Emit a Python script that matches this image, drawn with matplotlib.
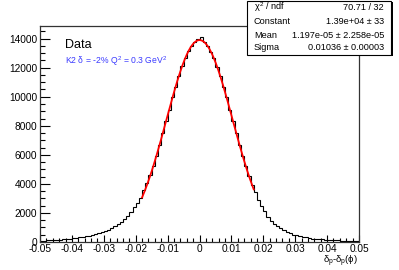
import numpy as np
import matplotlib
matplotlib.use("Agg")
import matplotlib.pyplot as plt
from matplotlib.ticker import MultipleLocator, FixedLocator
from matplotlib.patches import Rectangle

plt.rcParams['font.family'] = ['Liberation Sans', 'DejaVu Sans']
plt.rcParams['mathtext.fontset'] = 'custom'
plt.rcParams['mathtext.rm'] = 'Liberation Sans'
plt.rcParams['mathtext.it'] = 'Liberation Sans'

# histogram: 100 bins from -0.05 to 0.05
bin_edges_lo = -0.05
bin_edges_hi = 0.05
n_bins = 100
counts = [
    90, 100, 110, 120, 130, 140, 160, 180, 200, 225,
    250, 280, 310, 345, 390, 440, 490, 550, 610, 680,
    760, 850, 950, 1080, 1220, 1380, 1580, 1800, 2050, 2380,
    2700, 3050, 3550,
    4050, 4600, 5250, 5950, 6700, 7500, 8350, 9100, 9950, 10700,
    11400, 12100, 12650, 13150, 13480, 13780, 13950,
    14100, 13800, 13520, 13100, 12680, 12050, 11450, 10680, 9950, 9100,
    8300, 7520, 6700, 5950, 5200, 4550, 3950,
    3450, 2900, 2450, 2100, 1750, 1450, 1250, 1080, 940, 820,
    700, 590, 510, 470, 410, 360, 310, 270, 240, 215,
    195, 175, 160, 145, 130, 120, 108, 98, 90, 82,
    76, 70, 65,
]

# gaussian fit parameters (from stats box)
fit_const = 1.39e4
fit_mean = 1.197e-05
fit_sigma = 0.01036
fit_lo = -0.018
fit_hi = 0.017

stats_names = [r'$\chi^{2}$ / ndf', 'Constant', 'Mean', 'Sigma']
stats_vals = ['70.71 / 32', '1.39e+04 ± 33', '1.197e-05 ± 2.258e-05', '0.01036 ± 0.00003']

x_ticks = [-0.05, -0.04, -0.03, -0.02, -0.01, 0, 0.01, 0.02, 0.03, 0.04, 0.05]
x_tick_labels = ['-0.05', '-0.04', '-0.03', '-0.02', '-0.01', '0', '0.01', '0.02', '0.03', '0.04', '0.05']
y_ticks = [0, 2000, 4000, 6000, 8000, 10000, 12000, 14000]

W, H = 399, 270
fig = plt.figure(figsize=(W / 100, H / 100), dpi=100)
fig.patch.set_facecolor('white')
ax = fig.add_axes([40 / W, (H - 242) / H, (359 - 40) / W, (242 - 26) / H])

edges = np.linspace(bin_edges_lo, bin_edges_hi, n_bins + 1)
ax.stairs(counts, edges, color='black', lw=0.8, baseline=None)

xf = np.linspace(fit_lo, fit_hi, 300)
yf = fit_const * np.exp(-0.5 * ((xf - fit_mean) / fit_sigma) ** 2)
ax.plot(xf, yf, color='red', lw=1.3)

ax.set_xlim(-0.05, 0.05)
ax.set_ylim(0, 14870)
ax.xaxis.set_major_locator(FixedLocator(x_ticks))
ax.set_xticklabels(x_tick_labels)
ax.xaxis.set_minor_locator(MultipleLocator(0.002))
ax.yaxis.set_major_locator(FixedLocator(y_ticks))
ax.yaxis.set_minor_locator(MultipleLocator(500))
ax.tick_params(which='both', direction='in', top=False, right=False, labelsize=7.3, colors='black', width=0.8)
ax.tick_params(axis='y', which='major', length=7, pad=2)
ax.tick_params(axis='y', which='minor', length=3.5)
ax.tick_params(axis='x', which='major', length=5, pad=1.5)
ax.tick_params(axis='x', which='minor', length=3)
for s in ax.spines.values():
    s.set_linewidth(0.9)
    s.set_color('#333333')

ax.text(65 / W, 1 - 45 / H, 'Data', transform=fig.transFigure, fontsize=9, va='center', ha='left')
ax.text(65 / W, 1 - 61.5 / H, r'K2 $\delta$ = -2% Q$^{2}$ = 0.3 GeV$^{2}$', transform=fig.transFigure,
        fontsize=6.2, va='center', ha='left', color='#3a3aff')
ax.text(358 / W, 1 - 261.5 / H, r'$\delta_{p}$-$\delta_{p}(\phi)$', transform=fig.transFigure,
        fontsize=6.8, va='center', ha='right')

# stats box
bx0, by0, bx1, by1 = 247, 1, 391, 54.5
fig.patches.append(Rectangle((bx0 / W + 1.5 / W, 1 - (by1 + 1.5) / H), (bx1 - bx0) / W, (by1 - by0) / H,
                             transform=fig.transFigure, facecolor='black', edgecolor='none', zorder=5))
fig.patches.append(Rectangle((bx0 / W, 1 - by1 / H), (bx1 - bx0) / W, (by1 - by0) / H,
                             transform=fig.transFigure, facecolor='white', edgecolor='black', lw=0.8, zorder=6))
row_y = [7.5, 22, 35.5, 48]
for name, val, ry in zip(stats_names, stats_vals, row_y):
    fig.text(254 / W, 1 - ry / H, name, fontsize=6.6, va='center', ha='left', zorder=7)
    fig.text(384 / W, 1 - ry / H, val, fontsize=6.6, va='center', ha='right', zorder=7)

fig.savefig('out.png', dpi=100, facecolor='white')
